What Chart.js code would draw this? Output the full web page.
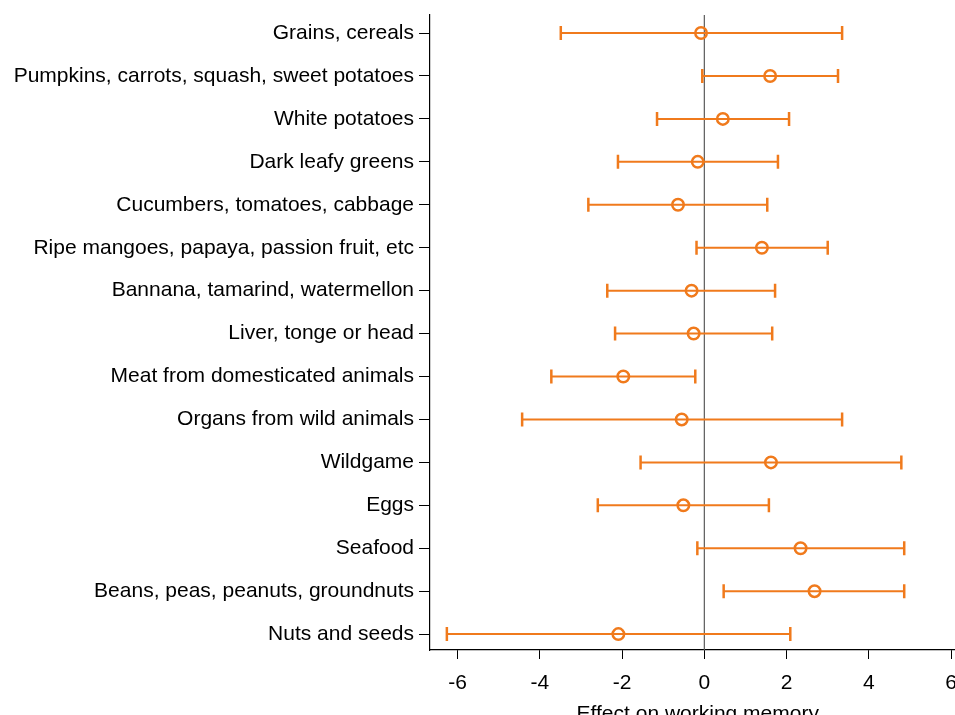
<!DOCTYPE html>
<html>
<head>
<meta charset="utf-8">
<script src="https://cdn.jsdelivr.net/npm/chart.js@4.4.1/dist/chart.umd.min.js"></script>
<style>
  html, body { margin: 0; padding: 0; background: #fff; overflow: hidden; }
  #wrap { width: 975px; height: 727px; }
</style>
</head>
<body>
<div id="wrap"><canvas id="myChart" width="975" height="727"></canvas></div>
<script>
// food groups, top to bottom
const foods = [
    'Grains, cereals',
    'Pumpkins, carrots, squash, sweet potatoes',
    'White potatoes',
    'Dark leafy greens',
    'Cucumbers, tomatoes, cabbage',
    'Ripe mangoes, papaya, passion fruit, etc',
    'Bannana, tamarind, watermellon',
    'Liver, tonge or head',
    'Meat from domesticated animals',
    'Organs from wild animals',
    'Wildgame',
    'Eggs',
    'Seafood',
    'Beans, peas, peanuts, groundnuts',
    'Nuts and seeds'
];
const coef  = [-0.08, 1.60, 0.45, -0.16, -0.64, 1.40, -0.31, -0.26, -1.97, -0.55, 1.62, -0.51, 2.34, 2.68, -2.09];
const lower = [-3.49, -0.05, -1.15, -2.10, -2.82, -0.19, -2.36, -2.17, -3.72, -4.43, -1.55, -2.59, -0.17, 0.47, -6.26];
const upper = [3.35, 3.25, 2.06, 1.79, 1.53, 3.00, 1.72, 1.65, -0.22, 3.35, 4.79, 1.57, 4.86, 4.86, 2.09];
const xTicks = [-6, -4, -2, 0, 2, 4, 6];

const orange = '#f07a1c';
const font = { family: '"Liberation Sans", Arial, sans-serif', size: 21 };

const datasets = [];

// confidence interval lines, one per row
foods.forEach((f, i) => {
    datasets.push({
        type: 'line',
        data: [{ x: lower[i], y: i + 1 }, { x: upper[i], y: i + 1 }],
        borderColor: orange,
        borderWidth: 2,
        pointRadius: 0,
        order: 3
    });
});

// caps at both ends
const caps = [];
foods.forEach((f, i) => {
    caps.push({ x: lower[i], y: i + 1 });
    caps.push({ x: upper[i], y: i + 1 });
});
datasets.push({
    type: 'scatter',
    data: caps,
    pointStyle: 'line',
    rotation: 90,
    pointRadius: 7,
    borderColor: orange,
    borderWidth: 2.5,
    order: 2
});

// point estimates
datasets.push({
    type: 'scatter',
    data: coef.map((c, i) => ({ x: c, y: i + 1 })),
    pointStyle: 'circle',
    pointRadius: 5.75,
    backgroundColor: 'rgba(0,0,0,0)',
    borderColor: orange,
    borderWidth: 2.5,
    order: 1
});

// zero reference line
datasets.push({
    type: 'line',
    data: [{ x: 0, y: 0.58 }, { x: 0, y: 15.37 }],
    borderColor: '#5a5a5a',
    borderWidth: 1.2,
    pointRadius: 0,
    order: 10
});

const ctx = document.getElementById('myChart');
new Chart(ctx, {
    type: 'scatter',
    data: { datasets: datasets },
    options: {
        responsive: false,
        animation: false,
        layout: { padding: { top: 15, left: 0, right: 0, bottom: 0 } },
        plugins: { legend: { display: false }, tooltip: { enabled: false } },
        scales: {
            x: {
                type: 'linear',
                min: -6.67,
                max: 6.35,
                afterBuildTicks: s => { s.ticks = xTicks.map(v => ({ value: v })); },
                afterFit: s => { s.height = 77; },
                grid: { drawOnChartArea: false, drawTicks: true, tickLength: 9, color: '#000' },
                border: { display: true, color: '#000', width: 1.2 },
                ticks: { color: '#000', font: font, padding: 12, maxRotation: 0 },
                title: {
                    display: true, text: 'Effect on working memory',
                    color: '#000', font: font, padding: { top: 0, bottom: 0 }
                }
            },
            y: {
                type: 'linear',
                reverse: true,
                min: 0.58,
                max: 15.37,
                afterBuildTicks: s => { s.ticks = foods.map((f, i) => ({ value: i + 1 })); },
                afterFit: s => { s.width = 430; s.paddingTop = 0; s.paddingBottom = 0; },
                grid: { drawOnChartArea: false, drawTicks: true, tickLength: 11, color: '#000' },
                border: { display: true, color: '#000', width: 1.2 },
                ticks: {
                    color: '#000', font: font, padding: 5,
                    callback: v => foods[v - 1]
                }
            }
        }
    }
});
</script>
</body>
</html>
